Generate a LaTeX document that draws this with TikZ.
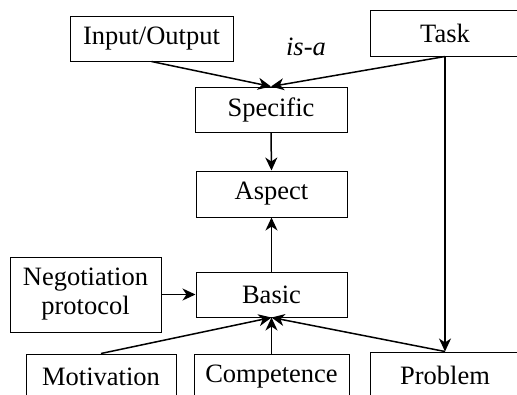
\documentclass[tikz,border=0pt]{standalone}
\usepackage{fontspec}
\setmainfont{Liberation Serif}
\usetikzlibrary{arrows.meta}
\tikzset{
    box/.style = {draw, line width = 1pt, inner sep = 0pt, font = \fontsize{26.5}{29}\selectfont, align = center},
    link/.style = {-{Stealth[length = 13pt, width = 12pt, inset = 4pt]}, line width = 1.5pt}
}
\begin{document}
\begin{tikzpicture}[x = 1pt, y = -1pt]
        \clip (0, 0) rectangle (517, 394);
        \node[box, minimum width = 163pt, minimum height = 45pt] (io) at (151.5, 38.5) {Input/Output};
        \node[box, minimum width = 150pt, minimum height = 46pt] (task) at (445, 33) {Task};
        \node[box, minimum width = 152pt, minimum height = 45pt] (specific) at (271, 109.5) {Specific};
        \node[box, minimum width = 151pt, minimum height = 46pt] (aspect) at (271.5, 194) {Aspect};
        \node[box, minimum width = 151pt, minimum height = 45pt] (basic) at (271.5, 294.5) {Basic};
        \node[box, minimum width = 151pt, minimum height = 75pt] (nego) at (85.5, 294.5) {Negotiation\\protocol};
        \node[box, minimum width = 150pt, minimum height = 46pt] (motiv) at (101, 377) {Motivation};
        \node[box, minimum width = 155pt, minimum height = 46pt] (comp) at (271.5, 377) {Competence};
        \node[box, minimum width = 150pt, minimum height = 46pt] (problem) at (445, 375) {Problem};
        \node[font = \fontsize{26.5}{29}\selectfont\itshape] (isa) at (306, 47) {is-a};

        \draw[link] (io.south) -- (specific.north);
        \draw[link] (task.south) -- (specific.north);
        \draw[link] (specific.south) -- (aspect.north);
        \draw[link] (basic.north) -- (aspect.south);
        \draw[link] (nego.east) -- (basic.west);
        \draw[link] (motiv.north) -- (basic.south);
        \draw[link] (comp.north) -- (basic.south);
        \draw[link] (problem.north) -- (basic.south);
        \draw[link] (task.south) -- (problem.north);

    \end{tikzpicture}
\end{document}
